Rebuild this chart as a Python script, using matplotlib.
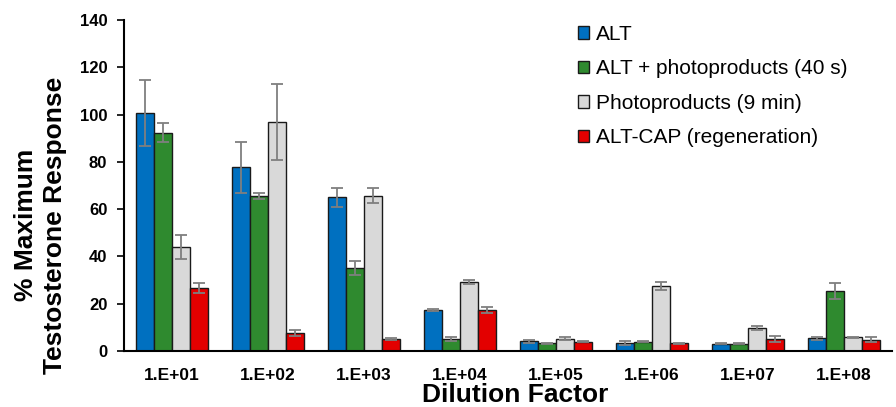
import matplotlib
matplotlib.use('Agg')
import matplotlib.pyplot as plt
import numpy as np

plt.rcParams['font.family'] = ['Liberation Sans', 'DejaVu Sans']

# 数据
dilutions = ["1.E+01", "1.E+02", "1.E+03", "1.E+04", "1.E+05", "1.E+06", "1.E+07", "1.E+08"]
series_names = ["ALT", "ALT + photoproducts (40 s)", "Photoproducts (9 min)", "ALT-CAP (regeneration)"]

alt = [100.8, 77.7, 65.1, 17.3, 4.1, 3.4, 3.1, 5.4]
alt_err = [14.0, 10.8, 4.0, 0.3, 0.6, 0.7, 0.2, 0.7]
alt_photo = [92.3, 65.7, 35.2, 5.2, 3.2, 3.9, 3.1, 25.5]
alt_photo_err = [4.0, 1.3, 3.0, 0.8, 0.2, 0.3, 0.2, 3.3]
photo = [44.0, 96.9, 65.7, 29.3, 5.2, 27.5, 9.7, 5.8]
photo_err = [5.2, 16.0, 3.1, 0.9, 0.7, 1.8, 0.7, 0.3]
alt_cap = [26.8, 7.7, 5.2, 17.3, 3.9, 3.2, 5.2, 4.7]
alt_cap_err = [2.1, 1.3, 0.5, 1.3, 0.3, 0.3, 1.3, 1.1]

values = [alt, alt_photo, photo, alt_cap]
errors = [alt_err, alt_photo_err, photo_err, alt_cap_err]
colors = ['#0070c0', '#2f8a2f', '#d9d9d9', '#e30000']

fig = plt.figure(figsize=(8.96, 4.07), dpi=100)
ax = fig.add_axes([124 / 896, 1 - 351 / 407, 768 / 896, 331 / 407])

x = np.arange(len(dilutions))
bar_w = 0.1875
for i in range(4):
    ax.bar(x + (i - 1.5) * bar_w, values[i], width=bar_w, color=colors[i],
           edgecolor='#1a1a1a', linewidth=1.0, label=series_names[i],
           yerr=errors[i], error_kw=dict(ecolor='#7f7f7f', elinewidth=1.3,
                                         capsize=4, capthick=1.3))

ax.set_xlim(-0.5, 7.5)
ax.set_ylim(0, 140)
ax.set_yticks(range(0, 141, 20))
ax.set_xticks(x)
ax.set_xticklabels(dilutions, fontsize=12.5, fontweight='bold')
ax.tick_params(axis='x', length=0, pad=12)
ax.tick_params(axis='y', direction='out', length=5, width=1.2, labelsize=12, pad=7)
for lab in ax.get_yticklabels():
    lab.set_fontweight('bold')

for s in ['top', 'right']:
    ax.spines[s].set_visible(False)
ax.spines['left'].set_linewidth(1.5)
ax.spines['bottom'].set_linewidth(1.5)

ax.set_xlabel("Dilution Factor", fontsize=19, fontweight='bold', labelpad=0)
ax.xaxis.set_label_coords(0.51, -0.096, transform=ax.transAxes)
ax.set_ylabel("% Maximum\nTestosterone Response", fontsize=19, fontweight='bold',
              linespacing=1.28)
ax.yaxis.set_label_coords(-0.074, 0.38)

leg = ax.legend(loc='upper left', bbox_to_anchor=(578 / 896, 1 - 25 / 407),
                bbox_transform=fig.transFigure, frameon=False, fontsize=15,
                handlelength=0.55, handleheight=0.55, handletextpad=0.3,
                labelspacing=0.74, borderpad=0, borderaxespad=0)

fig.savefig('out.png', dpi=100)
